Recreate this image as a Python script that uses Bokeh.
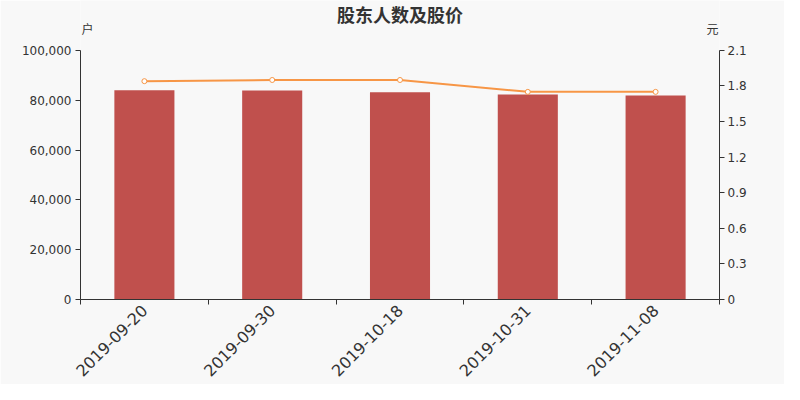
from math import pi
from bokeh.plotting import figure
from bokeh.models import (Range1d, LinearAxis, FixedTicker,
                          NumeralTickFormatter, Label, ColumnDataSource)
from bokeh.embed import file_html
from bokeh.resources import INLINE

# ---- data ----
dates = ["2019-09-20", "2019-09-30", "2019-10-18", "2019-10-31", "2019-11-08"]
holders = [83950, 83900, 83200, 82300, 81900]
prices = [1.84, 1.85, 1.85, 1.75, 1.75]
holder_ticks = [0, 20000, 40000, 60000, 80000, 100000]
price_ticks = [0, 0.3, 0.6, 0.9, 1.2, 1.5, 1.8, 2.1]
title_text = "股东人数及股价"
left_unit = "户"
right_unit = "元"

BG = "#f8f8f8"
TXT = "#333333"
BAR = "#c0504d"
LINE = "#f79646"
FONT = "DejaVu Sans"
CJK = "Noto Sans CJK SC"

# layout: frame spans the full height above the x axis; the axes cover the lower part
FRAME_H = 300      # px from figure top to x axis
AXIS_H = 250       # px covered by the y axes
FRAME_W = 639
stretch = FRAME_H / AXIS_H

n = len(dates)
centers = [i + 0.5 for i in range(n)]
edges = list(range(n + 1))

src = ColumnDataSource(dict(x=centers, holders=holders, price=prices))

p = figure(width=784, height=384, x_range=Range1d(0, n),
           y_range=Range1d(holder_ticks[0], holder_ticks[-1] * stretch),
           output_backend="svg", toolbar_location=None,
           x_axis_location=None, y_axis_location=None,
           min_border_left=80, min_border_right=65, min_border_top=0, min_border_bottom=84,
           background_fill_color=BG, border_fill_color=BG, outline_line_color=None)
for g in p.grid:
    g.visible = False

p.extra_y_ranges = {"price": Range1d(price_ticks[0], price_ticks[-1] * stretch)}

p.vbar(x="x", top="holders", width=0.47, source=src, fill_color=BAR, line_color=None)
p.line(x="x", y="price", source=src, y_range_name="price", line_color=LINE, line_width=2)
p.scatter(x="x", y="price", source=src, y_range_name="price", size=5,
          fill_color="white", line_color=LINE, line_width=1)

# tick marks at category boundaries
edge_axis = LinearAxis(ticker=FixedTicker(ticks=edges),
                       major_label_overrides={e: "" for e in edges},
                       major_label_text_font_size="0px", major_label_standoff=0,
                       major_tick_out=5, major_tick_in=0, minor_tick_line_color=None,
                       axis_line_color=TXT, major_tick_line_color=TXT)
# category labels at centers
cat_axis = LinearAxis(ticker=FixedTicker(ticks=centers),
                      major_label_overrides={c: d for c, d in zip(centers, dates)},
                      major_tick_line_color=None, major_tick_out=0, major_tick_in=0,
                      minor_tick_line_color=None,
                      axis_line_color=None, major_label_orientation=pi / 4,
                      major_label_standoff=3, major_label_text_font=FONT,
                      major_label_text_font_size="16px", major_label_text_color=TXT)
left_axis = LinearAxis(ticker=FixedTicker(ticks=holder_ticks),
                       bounds=(holder_ticks[0], holder_ticks[-1]),
                       formatter=NumeralTickFormatter(format="0,0"),
                       major_tick_out=5, major_tick_in=0, minor_tick_line_color=None,
                       major_label_standoff=4, major_label_text_font=FONT,
                       major_label_text_font_size="12px", major_label_text_color=TXT,
                       axis_line_color=TXT, major_tick_line_color=TXT)
right_axis = LinearAxis(y_range_name="price", ticker=FixedTicker(ticks=price_ticks),
                        bounds=(price_ticks[0], price_ticks[-1]),
                        formatter=NumeralTickFormatter(format="0.[0]"),
                        major_tick_out=5, major_tick_in=0, minor_tick_line_color=None,
                        major_label_standoff=3, major_label_text_font=FONT,
                        major_label_text_font_size="12px", major_label_text_color=TXT,
                        axis_line_color=TXT, major_tick_line_color=TXT)
p.add_layout(edge_axis, "below")
p.add_layout(cat_axis, "below")
p.add_layout(left_axis, "left")
p.add_layout(right_axis, "right")

p.add_layout(Label(x=FRAME_W / 2, y=FRAME_H - 14, x_units="screen", y_units="screen",
                   text=title_text, text_align="center", text_baseline="middle",
                   text_font=CJK, text_font_size="18px", text_font_style="bold",
                   text_color=TXT))
p.add_layout(Label(x=1, y=FRAME_H - 29, x_units="screen", y_units="screen", text=left_unit,
                   text_align="left", text_baseline="middle", text_font=CJK,
                   text_font_size="12px", text_color=TXT))
p.add_layout(Label(x=FRAME_W - 1, y=FRAME_H - 29, x_units="screen", y_units="screen",
                   text=right_unit, text_align="right", text_baseline="middle",
                   text_font=CJK, text_font_size="12px", text_color=TXT))

open("out.html", "w").write(file_html(p, INLINE))
